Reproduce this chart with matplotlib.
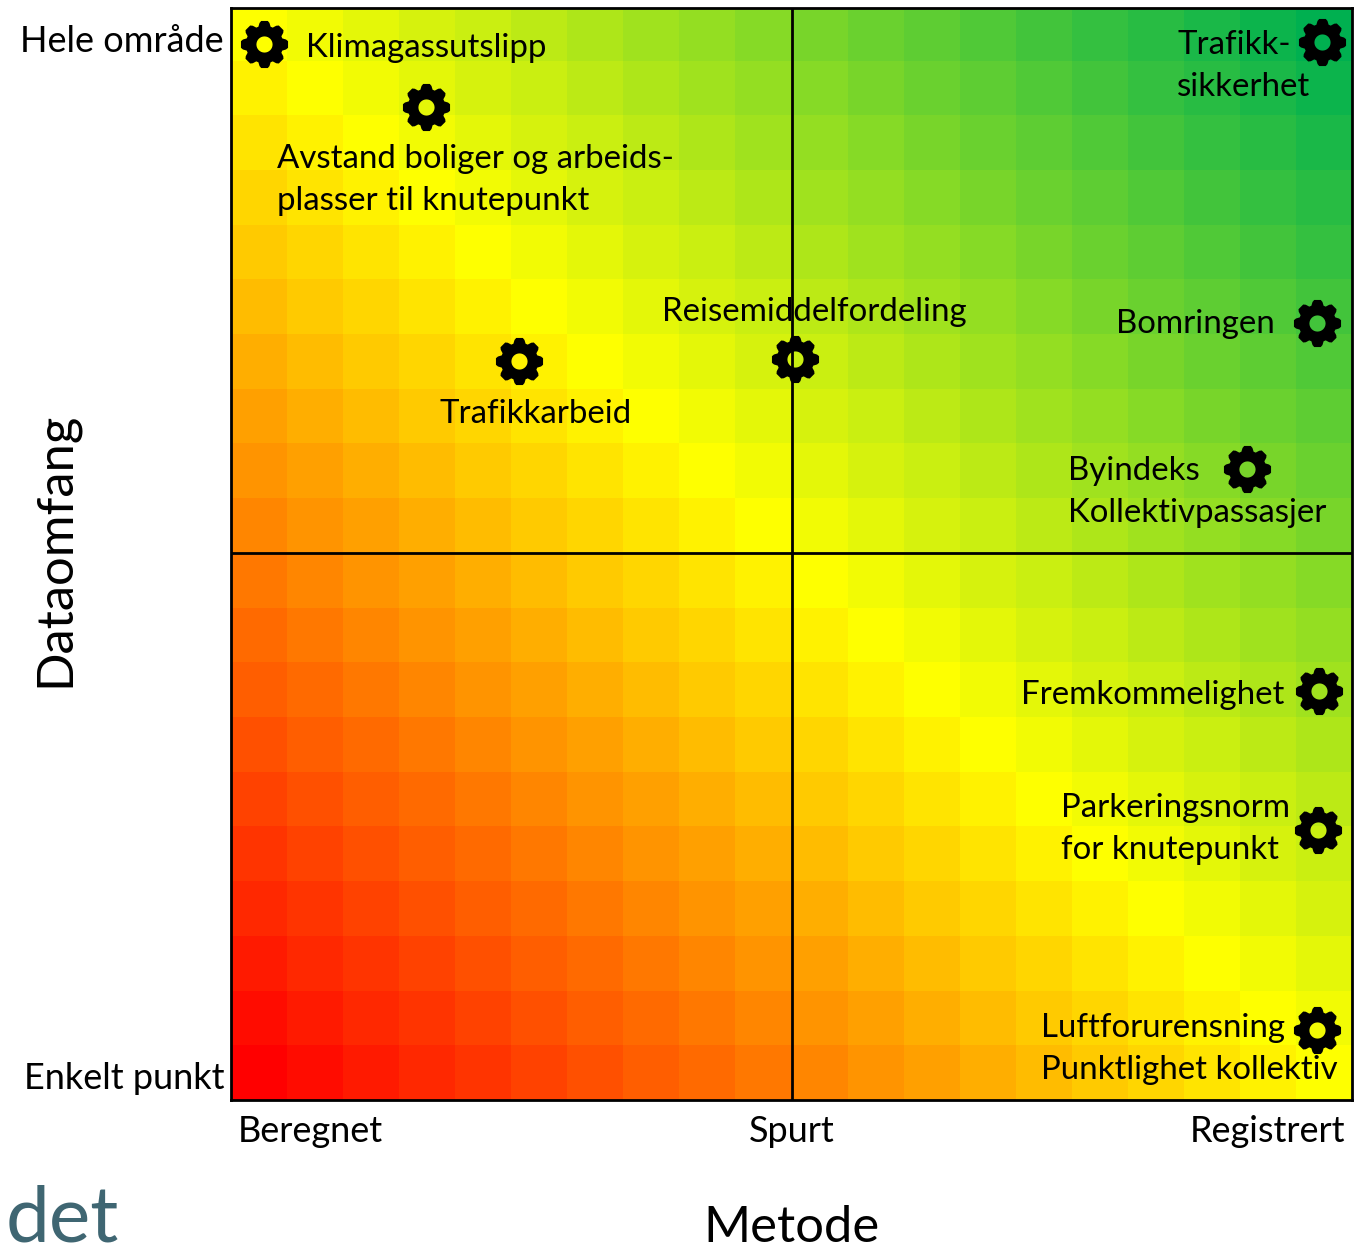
import numpy as np
import matplotlib
matplotlib.use('Agg')
import matplotlib.pyplot as plt
from matplotlib.colors import LinearSegmentedColormap
from matplotlib.path import Path

W, H = 1360, 1245

# score per cell, bottom row first
HEAT = [
    [0, 1, 2, 3, 4, 5, 6, 7, 8, 9, 10, 11, 12, 13, 14, 15, 16, 17, 18, 19],
    [1, 2, 3, 4, 5, 6, 7, 8, 9, 10, 11, 12, 13, 14, 15, 16, 17, 18, 19, 20],
    [2, 3, 4, 5, 6, 7, 8, 9, 10, 11, 12, 13, 14, 15, 16, 17, 18, 19, 20, 21],
    [3, 4, 5, 6, 7, 8, 9, 10, 11, 12, 13, 14, 15, 16, 17, 18, 19, 20, 21, 22],
    [4, 5, 6, 7, 8, 9, 10, 11, 12, 13, 14, 15, 16, 17, 18, 19, 20, 21, 22, 23],
    [5, 6, 7, 8, 9, 10, 11, 12, 13, 14, 15, 16, 17, 18, 19, 20, 21, 22, 23, 24],
    [6, 7, 8, 9, 10, 11, 12, 13, 14, 15, 16, 17, 18, 19, 20, 21, 22, 23, 24, 25],
    [7, 8, 9, 10, 11, 12, 13, 14, 15, 16, 17, 18, 19, 20, 21, 22, 23, 24, 25, 26],
    [8, 9, 10, 11, 12, 13, 14, 15, 16, 17, 18, 19, 20, 21, 22, 23, 24, 25, 26, 27],
    [9, 10, 11, 12, 13, 14, 15, 16, 17, 18, 19, 20, 21, 22, 23, 24, 25, 26, 27, 28],
    [10, 11, 12, 13, 14, 15, 16, 17, 18, 19, 20, 21, 22, 23, 24, 25, 26, 27, 28, 29],
    [11, 12, 13, 14, 15, 16, 17, 18, 19, 20, 21, 22, 23, 24, 25, 26, 27, 28, 29, 30],
    [12, 13, 14, 15, 16, 17, 18, 19, 20, 21, 22, 23, 24, 25, 26, 27, 28, 29, 30, 31],
    [13, 14, 15, 16, 17, 18, 19, 20, 21, 22, 23, 24, 25, 26, 27, 28, 29, 30, 31, 32],
    [14, 15, 16, 17, 18, 19, 20, 21, 22, 23, 24, 25, 26, 27, 28, 29, 30, 31, 32, 33],
    [15, 16, 17, 18, 19, 20, 21, 22, 23, 24, 25, 26, 27, 28, 29, 30, 31, 32, 33, 34],
    [16, 17, 18, 19, 20, 21, 22, 23, 24, 25, 26, 27, 28, 29, 30, 31, 32, 33, 34, 35],
    [17, 18, 19, 20, 21, 22, 23, 24, 25, 26, 27, 28, 29, 30, 31, 32, 33, 34, 35, 36],
    [18, 19, 20, 21, 22, 23, 24, 25, 26, 27, 28, 29, 30, 31, 32, 33, 34, 35, 36, 37],
    [19, 20, 21, 22, 23, 24, 25, 26, 27, 28, 29, 30, 31, 32, 33, 34, 35, 36, 37, 38],
]

NAMES = ['Klimagassutslipp', 'Avstand boliger og arbeids-\nplasser til knutepunkt', 'Trafikkarbeid',
         'Reisemiddelfordeling', 'Trafikk-\nsikkerhet', 'Bomringen', 'Byindeks\nKollektivpassasjer',
         'Fremkommelighet', 'Parkeringsnorm\nfor knutepunkt', 'Luftforurensning\nPunktlighet kollektiv']
METODE = [0.59, 3.48, 5.14, 10.06, 19.46, 19.38, 18.13, 19.41, 19.39, 19.38]
OMFANG = [19.31, 18.15, 13.51, 13.55, 19.34, 14.20, 11.54, 7.48, 4.94, 1.28]

X_TICKS = ['Beregnet', 'Spurt', 'Registrert']
Y_TICKS = ['Enkelt punkt', 'Hele område']

# left edge / vertical centre of each label, in image pixels
LABEL_X = [306, 277, 439, 662, 1177, 1116, 1068, 1021, 1061, 1041]
LABEL_Y = [48, 180, 414, 312, 66, 324, 492, 695, 829, 1049]


def gear_marker(teeth=8, hole=0.34):
    # outline with blunt teeth, hole wound the other way round
    pts = []
    step = 2 * np.pi / teeth
    for k in range(teeth):
        a = k * step + np.pi / 2
        for deg, r in [(-19, 0.79), (-13, 0.93), (-8, 1.0), (8, 1.0), (13, 0.93), (19, 0.79)]:
            d = np.radians(deg)
            pts.append((r * np.cos(a + d), r * np.sin(a + d)))
    pts = np.array(pts)
    t = np.linspace(0, 2 * np.pi, 33)
    inner = np.c_[hole * np.cos(t), -hole * np.sin(t)]
    verts = np.vstack([pts, pts[:1], inner])
    codes = [Path.MOVETO] + [Path.LINETO] * (len(pts) - 1) + [Path.CLOSEPOLY]
    codes += [Path.MOVETO] + [Path.LINETO] * (len(inner) - 2) + [Path.CLOSEPOLY]
    return Path(verts, codes)


plt.rcParams['font.family'] = ['Lato', 'DejaVu Sans']

fig = plt.figure(figsize=(W / 100, H / 100), dpi=100)
ax = fig.add_axes([231 / W, 1 - 1100 / H, (1352 - 231) / W, (1100 - 8) / H])

cmap = LinearSegmentedColormap.from_list('ryg', ['#FF0000', '#FFFF00', '#00B050'])
ax.pcolormesh(np.arange(21), np.arange(21), np.array(HEAT), cmap=cmap, vmin=0, vmax=38)

ax.axvline(10, color='black', lw=2)
ax.axhline(10, color='black', lw=2)

ax.scatter(METODE, OMFANG, marker=gear_marker(), s=1150, color='black', linewidths=0, zorder=3)

# top row is cut a little short in the original
ax.set_xlim(0, 20)
ax.set_ylim(0, 19.96)
ax.set_xticks([0.12, 10, 19.88], X_TICKS, fontsize=26)
ax.set_yticks([0.44, 19.41], Y_TICKS, fontsize=26)
ax.tick_params(length=0, pad=5)
ax.tick_params(axis='x', pad=11)
for lab, ha in zip(ax.get_xticklabels(), ['left', 'center', 'right']):
    lab.set_ha(ha)
for s in ax.spines.values():
    s.set_linewidth(2)

for name, lx, ly in zip(NAMES, LABEL_X, LABEL_Y):
    fig.text(lx / W, 1 - ly / H, name, fontsize=23.8, ha='left', va='center', linespacing=1.49, color='black')

fig.text(55 / W, 1 - 549 / H, 'Dataomfang', fontsize=36.5, rotation=90, ha='center', va='center')
fig.text(792 / W, 1 - 1228 / H, 'Metode', fontsize=36.5, ha='center', va='center')
fig.text(6 / W, 1 - 1242 / H, 'det', fontsize=56.5, color='#3F6672', ha='left', va='baseline')

fig.savefig('out.png', dpi=100)
